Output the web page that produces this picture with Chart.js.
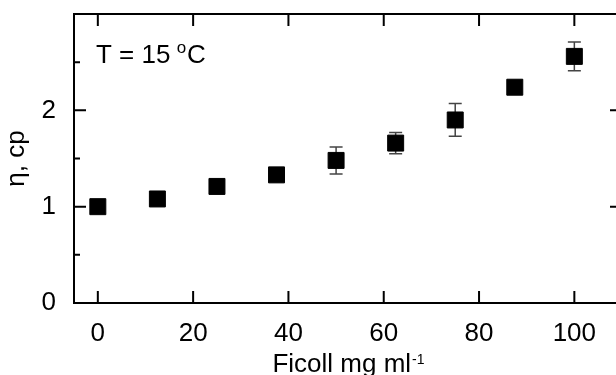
<!DOCTYPE html>
<html>
<head>
<meta charset="utf-8">
<script src="https://cdn.jsdelivr.net/npm/chart.js@4"></script>
<style>
  html, body { margin: 0; padding: 0; overflow: hidden; background: #fff; }
  #wrap { width: 640px; height: 375px; }
</style>
</head>
<body>
<div id="wrap"><canvas id="chart" width="640" height="375"></canvas></div>
<script>
// Ficoll concentration, mg/ml
const ficoll = [0, 12.5, 25, 37.5, 50, 62.5, 75, 87.5, 100];
// viscosity eta, cp (with +/- error)
const viscosity = [1.00, 1.08, 1.21, 1.33, 1.48, 1.66, 1.90, 2.24, 2.56];
const viscosityErr = [0, 0, 0, 0, 0.14, 0.11, 0.17, 0, 0.15];

const xTicks = [0, 20, 40, 60, 80, 100];
const yTicks = [0, 1, 2];
const yMinorTicks = [0.5, 1.5, 2.5];

const FONT = '"Liberation Sans", Arial, Helvetica, sans-serif';

// frame with inward ticks, error bars and the text labels
const decorations = {
  id: 'decorations',
  beforeDatasetsDraw(chart) {
    const { ctx, scales: { x, y } } = chart;
    ctx.save();
    ctx.strokeStyle = '#444';
    ctx.lineWidth = 1.5;
    viscosityErr.forEach((e, i) => {
      if (!e) return;
      const px = x.getPixelForValue(ficoll[i]);
      const top = y.getPixelForValue(viscosity[i] + e);
      const bot = y.getPixelForValue(viscosity[i] - e);
      ctx.beginPath();
      ctx.moveTo(px, top); ctx.lineTo(px, bot);
      ctx.moveTo(px - 6.5, top); ctx.lineTo(px + 6.5, top);
      ctx.moveTo(px - 6.5, bot); ctx.lineTo(px + 6.5, bot);
      ctx.stroke();
    });
    ctx.restore();
  },
  afterDraw(chart) {
    const { ctx, chartArea: a, scales: { x, y } } = chart;
    ctx.save();
    ctx.strokeStyle = '#000';
    ctx.lineWidth = 2;
    ctx.strokeRect(a.left, a.top, a.right - a.left, a.bottom - a.top);

    ctx.beginPath();
    xTicks.forEach(v => {
      const px = x.getPixelForValue(v);
      ctx.moveTo(px, a.bottom); ctx.lineTo(px, a.bottom - 12);
      ctx.moveTo(px, a.top); ctx.lineTo(px, a.top + 12);
    });
    yTicks.forEach(v => {
      const py = y.getPixelForValue(v);
      ctx.moveTo(a.left, py); ctx.lineTo(a.left + 12, py);
      ctx.moveTo(a.right, py); ctx.lineTo(a.right - 12, py);
    });
    yMinorTicks.forEach(v => {
      const py = y.getPixelForValue(v);
      ctx.moveTo(a.left, py); ctx.lineTo(a.left + 6, py);
      ctx.moveTo(a.right, py); ctx.lineTo(a.right - 6, py);
    });
    ctx.stroke();

    ctx.fillStyle = '#000';
    ctx.textBaseline = 'alphabetic';

    // "T = 15 oC" annotation
    let tx = 96;
    ctx.textAlign = 'left';
    ctx.font = '26px ' + FONT;
    ctx.fillText('T = 15 ', tx, 63);
    tx += ctx.measureText('T = 15 ').width - 1;
    ctx.font = '17px ' + FONT;
    ctx.fillText('o', tx, 53);
    tx += ctx.measureText('o').width + 1;
    ctx.font = '26px ' + FONT;
    ctx.fillText('C', tx, 63);

    // x axis title with superscript
    ctx.font = '26px ' + FONT;
    const main = 'Ficoll mg ml';
    const wMain = ctx.measureText(main).width;
    ctx.font = '14px ' + FONT;
    const wSup = ctx.measureText('-1').width;
    const cx = (a.left + a.right) / 2;
    let sx = cx - (wMain + wSup) / 2;
    ctx.font = '26px ' + FONT;
    ctx.fillText(main, sx, 371.5);
    ctx.font = '14px ' + FONT;
    ctx.fillText('-1', sx + wMain + 1, 364);

    // y axis title
    ctx.translate(23.5, (a.top + a.bottom) / 2);
    ctx.rotate(-Math.PI / 2);
    ctx.textAlign = 'center';
    ctx.font = '26px ' + FONT;
    ctx.fillText('η, cp', 0, 0);
    ctx.restore();
  }
};

const noPad = s => {
  s.paddingTop = 0; s.paddingBottom = 0;
  s.paddingLeft = 0; s.paddingRight = 0;
};

new Chart(document.getElementById('chart'), {
  type: 'scatter',
  data: {
    datasets: [{
      label: 'viscosity',
      data: ficoll.map((v, i) => ({ x: v, y: viscosity[i] })),
      pointStyle: 'rect',
      pointRadius: 11.3,
      pointHoverRadius: 11.3,
      backgroundColor: '#000',
      borderColor: '#000',
      borderWidth: 1,
      showLine: false
    }]
  },
  options: {
    responsive: false,
    devicePixelRatio: 1,
    animation: false,
    layout: { padding: { top: 14, right: 18, left: 0, bottom: 0 } },
    plugins: { legend: { display: false }, tooltip: { enabled: false } },
    scales: {
      x: {
        type: 'linear',
        min: -5,
        max: 110,
        afterBuildTicks: s => { s.ticks = xTicks.map(v => ({ value: v })); },
        afterFit: s => { s.height = 72; noPad(s); },
        grid: { display: false, drawTicks: false },
        border: { display: false },
        ticks: { color: '#000', padding: 15, maxRotation: 0, font: { family: FONT, size: 26 } }
      },
      y: {
        type: 'linear',
        min: 0,
        max: 3,
        afterBuildTicks: s => { s.ticks = yTicks.map(v => ({ value: v })); },
        afterFit: s => { s.width = 74; noPad(s); },
        grid: { display: false, drawTicks: false },
        border: { display: false },
        ticks: { color: '#000', padding: 18, font: { family: FONT, size: 26 } }
      }
    }
  },
  plugins: [decorations]
});
</script>
</body>
</html>
